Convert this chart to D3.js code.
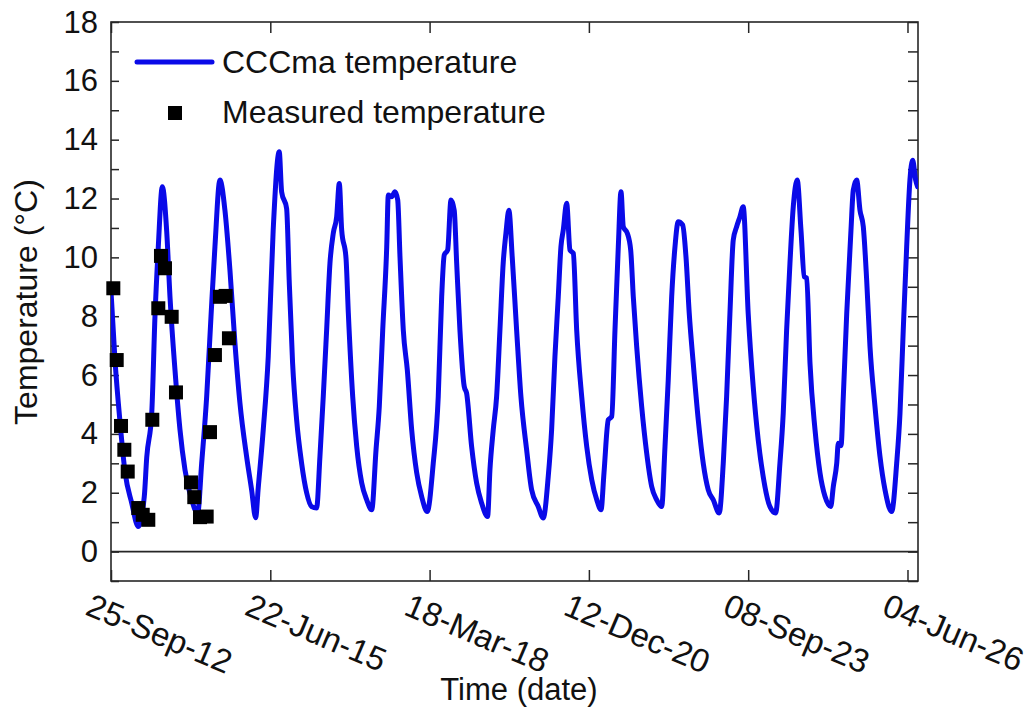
<!DOCTYPE html>
<html>
<head>
<meta charset="utf-8">
<script src="https://cdn.jsdelivr.net/npm/d3@7"></script>
<style>
  html, body { margin: 0; padding: 0; background: #fff; }
  text { font-family: "Liberation Sans", Arial, sans-serif; fill: #111; }
</style>
</head>
<body>
<svg id="chart" width="1028" height="724"></svg>
<script>
// ---------------- data ----------------
// CCCma modelled temperature: time as decimal year, value in °C
const modelYear = [
  2012.732, 2012.801, 2012.887, 2012.973, 2013.088, 2013.201, 2013.304, 2013.346, 2013.432, 2013.488,
  2013.545, 2013.614, 2013.689, 2013.746, 2013.832, 2013.918, 2014.004, 2014.119, 2014.222, 2014.291,
  2014.377, 2014.451, 2014.519, 2014.605, 2014.691, 2014.777, 2014.863, 2014.949, 2015.064, 2015.150,
  2015.219, 2015.264, 2015.350, 2015.436, 2015.521, 2015.625, 2015.666, 2015.752, 2015.796, 2015.855,
  2015.924, 2016.010, 2016.096, 2016.181, 2016.267, 2016.324, 2016.381, 2016.439, 2016.496, 2016.553,
  2016.611, 2016.656, 2016.697, 2016.771, 2016.811, 2016.886, 2016.955, 2017.041, 2017.127, 2017.213,
  2017.287, 2017.343, 2017.402, 2017.471, 2017.498, 2017.556, 2017.613, 2017.660, 2017.699, 2017.756,
  2017.825, 2017.900, 2017.986, 2018.072, 2018.168, 2018.271, 2018.357, 2018.416, 2018.460, 2018.519,
  2018.576, 2018.632, 2018.674, 2018.730, 2018.804, 2018.845, 2018.931, 2019.017, 2019.103, 2019.206,
  2019.246, 2019.303, 2019.361, 2019.418, 2019.474, 2019.521, 2019.572, 2019.629, 2019.705, 2019.779,
  2019.877, 2019.963, 2020.076, 2020.162, 2020.248, 2020.306, 2020.363, 2020.420, 2020.466, 2020.506,
  2020.564, 2020.621, 2020.678, 2020.736, 2020.822, 2020.908, 2020.994, 2021.080, 2021.154, 2021.205,
  2021.279, 2021.338, 2021.394, 2021.451, 2021.497, 2021.537, 2021.606, 2021.664, 2021.709, 2021.767,
  2021.853, 2021.939, 2022.025, 2022.111, 2022.197, 2022.254, 2022.310, 2022.369, 2022.426, 2022.482,
  2022.558, 2022.615, 2022.671, 2022.740, 2022.826, 2022.912, 2022.998, 2023.084, 2023.187, 2023.256,
  2023.314, 2023.371, 2023.428, 2023.486, 2023.543, 2023.599, 2023.685, 2023.771, 2023.857, 2023.943,
  2024.058, 2024.156, 2024.230, 2024.287, 2024.345, 2024.402, 2024.459, 2024.527, 2024.591, 2024.648,
  2024.689, 2024.746, 2024.832, 2024.918, 2025.004, 2025.102, 2025.146, 2025.205, 2025.232, 2025.279,
  2025.318, 2025.377, 2025.450, 2025.490, 2025.548, 2025.605, 2025.662, 2025.720, 2025.777, 2025.863,
  2025.949, 2026.035, 2026.150, 2026.236, 2026.293, 2026.349, 2026.408, 2026.464, 2026.511, 2026.562,
  2026.597
];
const modelTemp = [
  8.85, 6.50, 4.40, 2.70, 1.65, 0.85, 1.87, 3.20, 4.70, 8.00,
  10.36, 12.40, 10.90, 8.66, 6.17, 4.14, 2.78, 1.76, 1.30, 3.00,
  5.27, 7.98, 10.36, 12.63, 11.60, 9.57, 7.09, 5.05, 3.23, 2.10,
  1.15, 2.17, 4.14, 6.63, 10.93, 13.59, 12.23, 11.66, 9.23, 6.40,
  4.48, 3.00, 2.00, 1.53, 1.48, 3.23, 5.27, 7.53, 9.80, 10.82,
  11.38, 12.51, 10.93, 9.98, 8.11, 5.27, 3.57, 2.33, 1.76, 1.42,
  3.46, 4.93, 7.53, 10.36, 12.12, 12.06, 12.23, 11.95, 10.02, 7.53,
  6.17, 4.14, 2.68, 1.87, 1.36, 3.00, 5.27, 8.66, 10.08, 10.25,
  11.95, 11.60, 9.80, 7.53, 5.61, 5.38, 3.57, 2.33, 1.65, 1.19,
  2.78, 4.14, 5.27, 7.53, 9.80, 10.82, 11.60, 10.02, 7.53, 5.27,
  3.46, 2.10, 1.53, 1.14, 2.55, 4.14, 6.63, 8.66, 10.36, 10.93,
  11.84, 10.25, 10.14, 7.53, 5.27, 3.57, 2.44, 1.76, 1.42, 2.68,
  4.48, 4.59, 7.53, 10.36, 12.23, 11.04, 10.82, 10.25, 8.66, 6.97,
  4.93, 3.35, 2.21, 1.76, 1.53, 3.57, 5.84, 8.66, 10.36, 11.21,
  11.10, 10.02, 8.10, 6.40, 4.48, 3.00, 2.10, 1.76, 1.31, 3.00,
  5.27, 8.10, 10.59, 11.04, 11.38, 11.72, 8.10, 5.61, 3.80, 2.55,
  1.53, 1.31, 3.00, 4.71, 7.53, 9.80, 11.72, 12.63, 10.93, 9.34,
  9.30, 6.40, 4.14, 2.67, 1.87, 1.53, 2.21, 3.00, 3.68, 3.60,
  5.27, 8.10, 10.93, 12.29, 12.63, 11.60, 11.04, 9.23, 6.97, 4.93,
  3.23, 2.10, 1.36, 3.00, 4.70, 7.53, 10.36, 12.63, 13.30, 12.63,
  12.40
];
// Measured temperature (black squares)
const measYear = [
  2012.772, 2012.830, 2012.904, 2012.961, 2013.019, 2013.201, 2013.277, 2013.373, 2013.442, 2013.545,
  2013.591, 2013.660, 2013.775, 2013.849, 2014.107, 2014.164, 2014.262, 2014.377, 2014.434, 2014.519,
  2014.605, 2014.703, 2014.760
];
const measTemp = [
  8.95, 6.51, 4.27, 3.46, 2.72, 1.48, 1.25, 1.08, 4.48, 8.27,
  10.05, 9.63, 7.98, 5.41, 2.35, 1.85, 1.17, 1.19, 4.06, 6.68,
  8.66, 8.69, 7.25
];
const xTickDates = ["2012-09-25", "2015-06-22", "2018-03-18", "2020-12-12", "2023-09-08", "2026-06-04"];
const yTickLabels = [0, 2, 4, 6, 8, 10, 12, 14, 16, 18];
const seriesNames = ["CCCma temperature", "Measured temperature"];
const xAxisTitle = "Time (date)";
const yAxisTitle = "Temperature (°C)";

// ---------------- helpers ----------------
const DAY = 86400000;
function yearToDate(y) {
  const yi = Math.floor(y);
  const a = Date.UTC(yi, 0, 1), b = Date.UTC(yi + 1, 0, 1);
  return new Date(a + (y - yi) * (b - a));
}
const parseISO = d3.utcParse("%Y-%m-%d");
const fmt = d3.utcFormat("%d-%b-%y");

// ---------------- layout ----------------
const L = 111, R = 918, T = 22, B = 581;
const svg = d3.select("#chart");

const xStart = parseISO(xTickDates[0]);
const xEnd = new Date(xStart.getTime() + 5066 * DAY);
const x = d3.scaleUtc().domain([xStart, xEnd]).range([L, R]);
const y = d3.scaleLinear().domain([-1, 18]).range([B, T]);

const axisColor = "#262626";
const FS = 31;

// frame
svg.append("rect").attr("x", L).attr("y", T).attr("width", R - L).attr("height", B - T)
  .attr("fill", "none").attr("stroke", axisColor).attr("stroke-width", 1.6);

// zero line
svg.append("line").attr("x1", L).attr("x2", R).attr("y1", y(0)).attr("y2", y(0))
  .attr("stroke", axisColor).attr("stroke-width", 1.6);

// y ticks (left inward and right inward), every 1 unit
const yMinor = d3.range(-1, 19, 1);
const gLeft = svg.append("g").attr("transform", `translate(${L},0)`)
  .call(d3.axisRight(y).tickValues(yMinor).tickSize(8).tickFormat(""));
const gRight = svg.append("g").attr("transform", `translate(${R},0)`)
  .call(d3.axisLeft(y).tickValues(yMinor).tickSize(10).tickFormat(""));
[gLeft, gRight].forEach(g => {
  g.select(".domain").remove();
  g.selectAll(".tick line").attr("stroke", axisColor).attr("stroke-width", 1.5);
});

// y tick labels
svg.append("g").selectAll("text").data(yTickLabels).join("text")
  .attr("x", 98).attr("y", d => y(d)).attr("text-anchor", "end")
  .attr("dominant-baseline", "central").attr("font-size", FS).text(d => d);

// x ticks bottom (inward, up) and top (inward, down)
const xTicks = xTickDates.map(parseISO);
const gBottom = svg.append("g").attr("transform", `translate(0,${B})`)
  .call(d3.axisTop(x).tickValues(xTicks).tickSize(11).tickFormat(""));
const gTop = svg.append("g").attr("transform", `translate(0,${T})`)
  .call(d3.axisBottom(x).tickValues(xTicks).tickSize(11).tickFormat(""));
[gBottom, gTop].forEach(g => {
  g.select(".domain").remove();
  g.selectAll(".tick line").attr("stroke", axisColor).attr("stroke-width", 1.5);
});

// x tick labels, rotated
svg.append("g").selectAll("text").data(xTicks).join("text")
  .attr("transform", d => `translate(${x(d) - 27},614) rotate(23)`)
  .attr("font-size", 33).text(d => fmt(d));

// axis titles
svg.append("text").attr("x", 519).attr("y", 700).attr("text-anchor", "middle")
  .attr("font-size", FS).text(xAxisTitle);
svg.append("text").attr("transform", "translate(37,302) rotate(-90)")
  .attr("text-anchor", "middle").attr("font-size", 32).text(yAxisTitle);

// clip
svg.append("clipPath").attr("id", "plotclip").append("rect")
  .attr("x", L).attr("y", T).attr("width", R - L).attr("height", B - T);

const blue = "#0a0ae8";
const modelData = modelYear.map((yr, i) => ({ t: yearToDate(yr), v: modelTemp[i] }));
const measData = measYear.map((yr, i) => ({ t: yearToDate(yr), v: measTemp[i] }));

const line = d3.line().x(d => x(d.t)).y(d => y(d.v)).curve(d3.curveMonotoneX);
svg.append("path").datum(modelData).attr("clip-path", "url(#plotclip)")
  .attr("d", line).attr("fill", "none").attr("stroke", blue)
  .attr("stroke-width", 5).attr("stroke-linejoin", "round").attr("stroke-linecap", "round");

const SQ = 14;
svg.append("g").selectAll("rect").data(measData).join("rect")
  .attr("x", d => x(d.t) - SQ / 2).attr("y", d => y(d.v) - SQ / 2)
  .attr("width", SQ).attr("height", SQ).attr("fill", "#000");

// legend
const leg = svg.append("g");
leg.append("line").attr("x1", 137).attr("x2", 212).attr("y1", 62).attr("y2", 62)
  .attr("stroke", blue).attr("stroke-width", 5).attr("stroke-linecap", "round");
leg.append("text").attr("x", 222).attr("y", 73).attr("font-size", 32).text(seriesNames[0]);
leg.append("rect").attr("x", 175 - SQ / 2).attr("y", 113 - SQ / 2).attr("width", SQ).attr("height", SQ).attr("fill", "#000");
leg.append("text").attr("x", 222).attr("y", 123).attr("font-size", 32).text(seriesNames[1]);
</script>
</body>
</html>
